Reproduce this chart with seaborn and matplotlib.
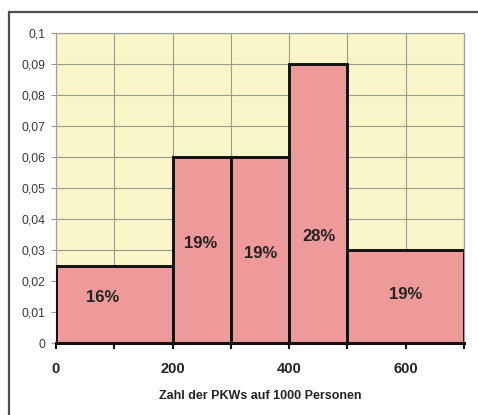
import matplotlib
matplotlib.use("Agg")
import matplotlib.pyplot as plt
import matplotlib.patches as mpatches
import numpy as np
import seaborn as sns

# Class boundaries (cars per 1000 inhabitants) and height of each class
bin_edges = [0, 200, 300, 400, 500, 700]
densities = [0.025, 0.06, 0.06, 0.09, 0.03]
share_labels = ["16%", "19%", "19%", "28%", "19%"]
label_x = [80, 248, 351, 451, 600]
label_y = [0.0148, 0.032, 0.029, 0.0345, 0.0155]

x_tick_values = [0, 200, 400, 600]
y_tick_values = [0, 0.01, 0.02, 0.03, 0.04, 0.05, 0.06, 0.07, 0.08, 0.09, 0.1]

sns.set_theme(style="white")
plt.rcParams["font.family"] = ["Liberation Sans", "DejaVu Sans"]

fig = plt.figure(figsize=(4.78, 4.15), dpi=100)
ax = fig.add_axes([56 / 478, 72 / 415, 408 / 478, 310 / 415])

# outer frame around the whole chart
frame = mpatches.Rectangle((9 / 478, -0.05), 1.2, (415 - 12) / 415 + 0.05,
                           transform=fig.transFigure, fill=False,
                           edgecolor="#505050", linewidth=1.6, clip_on=False)
fig.patches.append(frame)

ax.set_facecolor("#F8F5C9")

centers = [(a + b) / 2 for a, b in zip(bin_edges[:-1], bin_edges[1:])]
sns.histplot(x=centers, weights=densities, bins=bin_edges, stat="count",
             color="#EE9A9A", alpha=1.0, edgecolor="#111111", linewidth=2.1,
             ax=ax, zorder=3)

for txt, xv, yv in zip(share_labels, label_x, label_y):
    ax.text(xv, yv, txt, ha="center", va="center", fontsize=12,
            fontweight="bold", color="#222222", zorder=5)

ax.set_xlim(0, 700)
ax.set_ylim(0, 0.1)

ax.set_xticks(np.arange(0, 701, 100))
ax.set_xticklabels([str(v) if v in x_tick_values else "" for v in range(0, 701, 100)],
                   fontsize=10.5, fontweight="bold", color="#222222")
ax.set_yticks(y_tick_values)
ax.set_yticklabels([("%g" % v).replace(".", ",") for v in y_tick_values],
                   fontsize=8.8, color="#3a3a3a")

ax.grid(True, color="#9a9a88", linewidth=0.8, zorder=0)
ax.set_axisbelow(True)

ax.tick_params(axis="x", direction="out", length=4, width=1.5, color="#111111", pad=10,
               bottom=True)
ax.tick_params(axis="y", direction="out", length=3.6, width=0.8, color="#999999", pad=4,
               left=True)

for side in ["top", "right", "left"]:
    ax.spines[side].set_color("#a0a0a0")
    ax.spines[side].set_linewidth(0.9)
ax.spines["bottom"].set_color("#111111")
ax.spines["bottom"].set_linewidth(2.2)
ax.spines["bottom"].set_zorder(6)

ax.set_ylabel("")
ax.set_xlabel("Zahl der PKWs auf 1000 Personen", fontsize=9, fontweight="bold",
              color="#222222", labelpad=10)

fig.savefig("out.png", dpi=100)
